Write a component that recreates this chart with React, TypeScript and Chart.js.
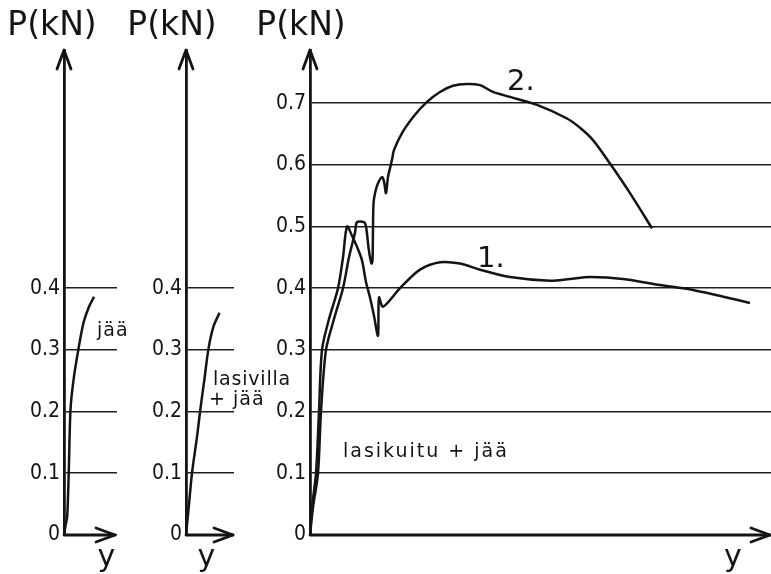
import React, { useEffect, useRef } from 'react';
import { Chart, registerables } from 'chart.js';

Chart.register(...registerables);

// ---------- data ----------
const Y_MAX = 0.786;
const TICKS_SMALL = [0, 0.1, 0.2, 0.3, 0.4];
const TICKS_LARGE = [0, 0.1, 0.2, 0.3, 0.4, 0.5, 0.6, 0.7];

// Panel 1: jää (ice)
const iceY = [0, 1.5, 3.2, 4.8, 6.5, 9.5, 14.5, 19.5, 24.5, 30];
const iceP = [0, 0.015, 0.03, 0.105, 0.203, 0.251, 0.302, 0.344, 0.368, 0.386];

// Panel 2: lasivilla + jää (glass wool + ice)
const woolY = [0, 3, 6.2, 11, 14.3, 18.3, 22.5, 27.5, 33.5];
const woolP = [0, 0.05, 0.103, 0.159, 0.203, 0.251, 0.302, 0.338, 0.36];

// Panel 3: lasikuitu + jää (glass fibre + ice), curve 1
const fibre1Y = [0, 2, 6, 9, 12, 19, 28, 33, 37, 42, 47, 52, 56, 60, 64, 68, 69, 73, 90, 110, 130, 150, 170, 200, 240, 260, 280, 313, 350, 383, 440];
const fibre1P = [0, 0.045, 0.1, 0.2, 0.3, 0.35, 0.4, 0.45, 0.5, 0.485, 0.467, 0.445, 0.41, 0.385, 0.355, 0.323, 0.385, 0.37, 0.4, 0.43, 0.442, 0.44, 0.43, 0.418, 0.412, 0.415, 0.418, 0.415, 0.405, 0.397, 0.376];

// Panel 3: curve 2
const fibre2Y = [0, 3, 8, 11, 16, 24, 33, 39, 45, 47, 54, 56, 59, 61.5, 62.5, 63, 63.5, 65, 68, 72, 74, 76, 78, 82, 84, 93, 105, 117, 130, 143, 157, 170, 183, 200, 227, 257, 270, 283, 300, 320, 342];
const fibre2P = [0, 0.045, 0.1, 0.2, 0.3, 0.35, 0.4, 0.45, 0.49, 0.507, 0.507, 0.5, 0.46, 0.44, 0.445, 0.5, 0.537, 0.554, 0.57, 0.58, 0.573, 0.554, 0.58, 0.608, 0.624, 0.654, 0.681, 0.702, 0.718, 0.728, 0.731, 0.729, 0.718, 0.71, 0.697, 0.675, 0.66, 0.64, 0.602, 0.554, 0.497];

const zip = (xs: number[], ys: number[]) => xs.map((x, i) => ({ x, y: ys[i] }));

type Label = { text: string; x: number; y: number; size: number; spacing: number };

type PanelCfg = {
  left: number;
  width: number;
  axisW: number;
  padRight: number;
  xMax: number;
  arrowEnd: number;
  yLabelX: number;
  titleDx: number;
  ticks: number[];
  series: { x: number; y: number }[][];
  labels: Label[];
};

const FONT = "'DejaVu Sans', sans-serif";
const TICK_FONT = "'DejaVu Sans Condensed', 'DejaVu Sans', sans-serif";
const INK = '#141414';

const PANELS: PanelCfg[] = [
  {
    left: 0, width: 135, axisW: 64, padRight: 18, xMax: 53, arrowEnd: 51, yLabelX: 42.5, titleDx: -12,
    ticks: TICKS_SMALL,
    series: [zip(iceY, iceP)],
    labels: [{ text: 'jää', x: 33, y: 0.3225, size: 19, spacing: 1 }],
  },
  {
    left: 126, width: 170, axisW: 60, padRight: 62, xMax: 48, arrowEnd: 47, yLabelX: 20.5, titleDx: -14,
    ticks: TICKS_SMALL,
    series: [zip(woolY, woolP)],
    labels: [
      { text: 'lasivilla', x: 27, y: 0.243, size: 19, spacing: 0.8 },
      { text: '+ jää', x: 23, y: 0.211, size: 19, spacing: 1 },
    ],
  },
  {
    left: 240, width: 531, axisW: 70, padRight: 0, xMax: 461, arrowEnd: 460, yLabelX: 423, titleDx: -9,
    ticks: TICKS_LARGE,
    series: [zip(fibre1Y, fibre1P), zip(fibre2Y, fibre2P)],
    labels: [
      { text: 'lasikuitu + jää', x: 33, y: 0.127, size: 19, spacing: 2 },
      { text: '1.', x: 167, y: 0.434, size: 29, spacing: 0 },
      { text: '2.', x: 197, y: 0.721, size: 29, spacing: 0 },
    ],
  },
];

function Panel({ cfg }: { cfg: PanelCfg }) {
  const ref = useRef<HTMLCanvasElement | null>(null);

  useEffect(() => {
    if (!ref.current) return;
    const decor = {
      id: 'decor',
      afterDraw(chart: any) {
        const ctx = chart.ctx as CanvasRenderingContext2D;
        const { left, top, bottom } = chart.chartArea;
        const xs = chart.scales.x;
        const ys = chart.scales.y;
        ctx.save();
        ctx.strokeStyle = INK;
        ctx.fillStyle = INK;
        ctx.lineWidth = 2.8;
        ctx.lineCap = 'round';
        ctx.lineJoin = 'round';
        // y axis arrow
        ctx.beginPath();
        ctx.moveTo(left - 7, top + 19);
        ctx.lineTo(left, top);
        ctx.lineTo(left + 7, top + 19);
        ctx.stroke();
        // x axis with arrow
        const xe = xs.getPixelForValue(cfg.arrowEnd);
        ctx.beginPath();
        ctx.moveTo(left, bottom);
        ctx.lineTo(xe, bottom);
        ctx.stroke();
        ctx.beginPath();
        ctx.moveTo(xe - 19, bottom - 7);
        ctx.lineTo(xe, bottom);
        ctx.lineTo(xe - 19, bottom + 7);
        ctx.stroke();
        // title
        ctx.font = `33px ${FONT}`;
        ctx.textAlign = 'center';
        ctx.textBaseline = 'middle';
        ctx.fillText('P(kN)', left + cfg.titleDx, 26);
        // axis name
        ctx.font = `30px ${FONT}`;
        ctx.textBaseline = 'alphabetic';
        ctx.fillText('y', xs.getPixelForValue(cfg.yLabelX), 566);
        // labels
        ctx.textAlign = 'left';
        for (const l of cfg.labels) {
          ctx.font = `${l.size}px ${FONT}`;
          (ctx as any).letterSpacing = `${l.spacing}px`;
          ctx.fillText(l.text, xs.getPixelForValue(l.x), ys.getPixelForValue(l.y));
        }
        (ctx as any).letterSpacing = '0px';
        ctx.restore();
      },
    };

    const chart = new Chart(ref.current, {
      type: 'line',
      data: {
        datasets: cfg.series.map((s) => ({
          data: s,
          borderColor: INK,
          borderWidth: 2.5,
          pointRadius: 0,
          tension: 0.3,
          fill: false,
        })),
      },
      options: {
        animation: false,
        responsive: false,
        layout: { padding: { top: 50, bottom: 39, left: 0, right: cfg.padRight } },
        plugins: { legend: { display: false }, tooltip: { enabled: false }, title: { display: false } },
        scales: {
          x: { type: 'linear', min: 0, max: cfg.xMax, display: false },
          y: {
            type: 'linear',
            min: 0,
            max: Y_MAX,
            afterFit: (s: any) => { s.width = cfg.axisW; },
            afterBuildTicks: (s: any) => { s.ticks = cfg.ticks.map((v) => ({ value: v })); },
            grid: { color: '#1e1e1e', lineWidth: 1.6, drawTicks: false },
            border: { display: true, color: INK, width: 2.8 },
            ticks: {
              color: INK,
              padding: 4,
              font: { family: TICK_FONT, size: 21 },
              callback: (v: any) => (Number(v) === 0 ? '0' : Number(v).toFixed(1)),
            },
          },
        },
      } as any,
      plugins: [decor],
    });
    return () => chart.destroy();
  }, [cfg]);

  return (
    <canvas
      ref={ref}
      width={cfg.width}
      height={574}
      style={{ position: 'absolute', left: cfg.left, top: 0, width: cfg.width, height: 574 }}
    />
  );
}

export default function App() {
  return (
    <div style={{ position: 'absolute', left: 0, top: 0, width: 771, height: 574, background: '#fff', overflow: 'hidden' }}>
      {PANELS.map((p, i) => (
        <Panel key={i} cfg={p} />
      ))}
    </div>
  );
}
